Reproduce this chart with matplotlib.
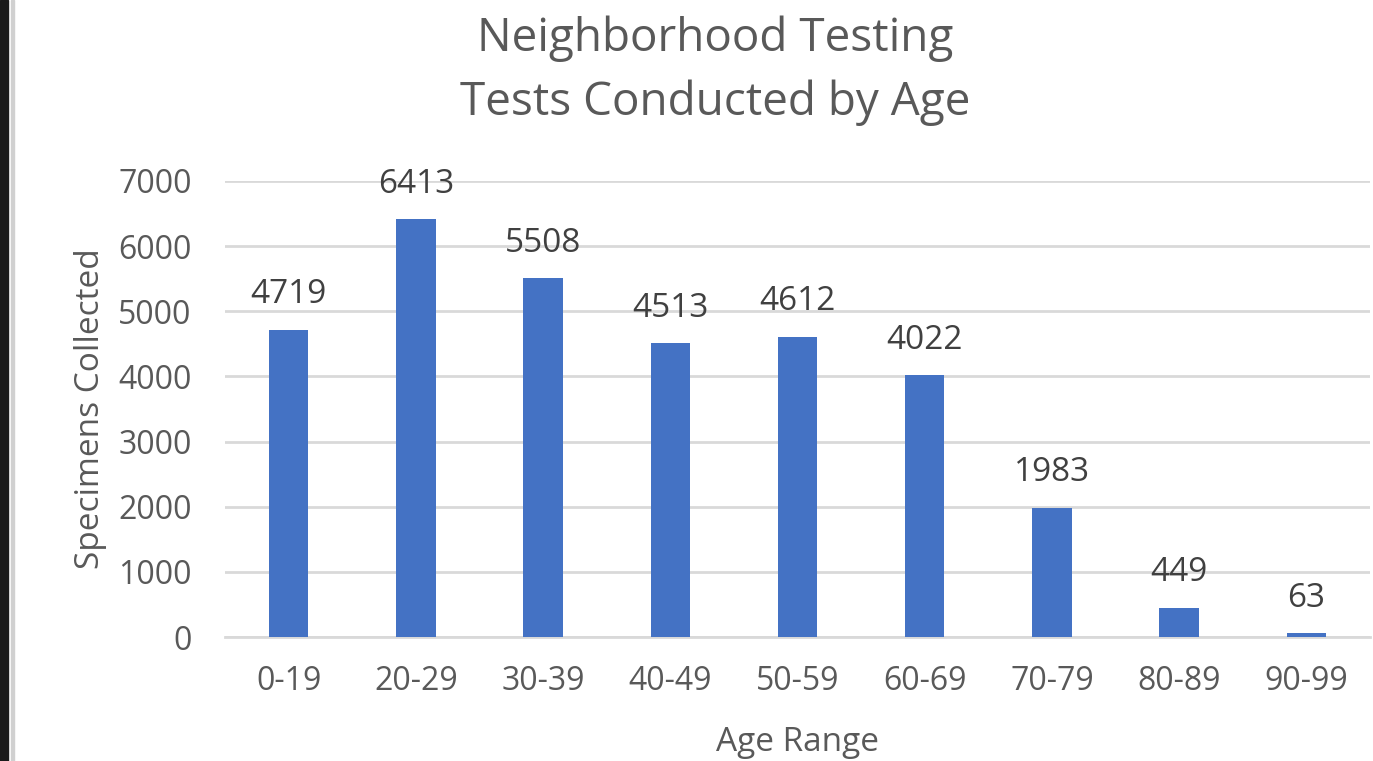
import matplotlib.pyplot as plt
from matplotlib.patches import Rectangle

# Дані
age_ranges = ['0-19', '20-29', '30-39', '40-49', '50-59', '60-69', '70-79', '80-89', '90-99']
specimens = [4719, 6413, 5508, 4513, 4612, 4022, 1983, 449, 63]
y_ticks = [0, 1000, 2000, 3000, 4000, 5000, 6000, 7000]

plt.rcParams['font.family'] = ['Open Sans', 'DejaVu Sans']
text_color = '#595959'
bar_color = '#4472C4'
grid_color = '#D9D9D9'

fig = plt.figure(figsize=(13.73, 7.61), dpi=100)
ax = fig.add_axes([0.1639, 0.1629, 0.8339, 0.5993])

ax.bar(age_ranges, specimens, width=0.31, color=bar_color, zorder=3)
ax.set_xlim(-0.5, len(age_ranges) - 0.5)
ax.set_ylim(0, 7000)
ax.set_yticks(y_ticks)

# Сітка
ax.grid(axis='y', color=grid_color, linewidth=2, zorder=0)
for side in ['top', 'right', 'left']:
    ax.spines[side].set_visible(False)
ax.spines['bottom'].set_color(grid_color)
ax.spines['bottom'].set_linewidth(2)

ax.tick_params(axis='both', length=0, labelsize=23, colors=text_color)
ax.tick_params(axis='x', pad=20)
ax.tick_params(axis='y', pad=24)

# Підписи значень
for i, v in enumerate(specimens):
    ax.annotate(str(v), (i, v), xytext=(0, 19), textcoords='offset points',
                ha='center', va='baseline', fontsize=24, color='#404040')

ax.set_xlabel('Age Range', fontsize=24, color=text_color, labelpad=20)
ax.set_ylabel('Specimens Collected', fontsize=24, color=text_color, labelpad=8)

fig.text(0.5208, 0.933, 'Neighborhood Testing', ha='center', va='baseline',
         fontsize=33, color=text_color)
fig.text(0.5208, 0.849, 'Tests Conducted by Age', ha='center', va='baseline',
         fontsize=33, color=text_color)

# Темна рамка зліва
fig.patches.append(Rectangle((0, 0), 8 / 1373, 1, transform=fig.transFigure,
                             color='#1a1a1a', zorder=10))
fig.patches.append(Rectangle((11 / 1373, 0), 3 / 1373, 1, transform=fig.transFigure,
                             color='#d0d0d0', zorder=10))

fig.savefig('out.png', dpi=100)
